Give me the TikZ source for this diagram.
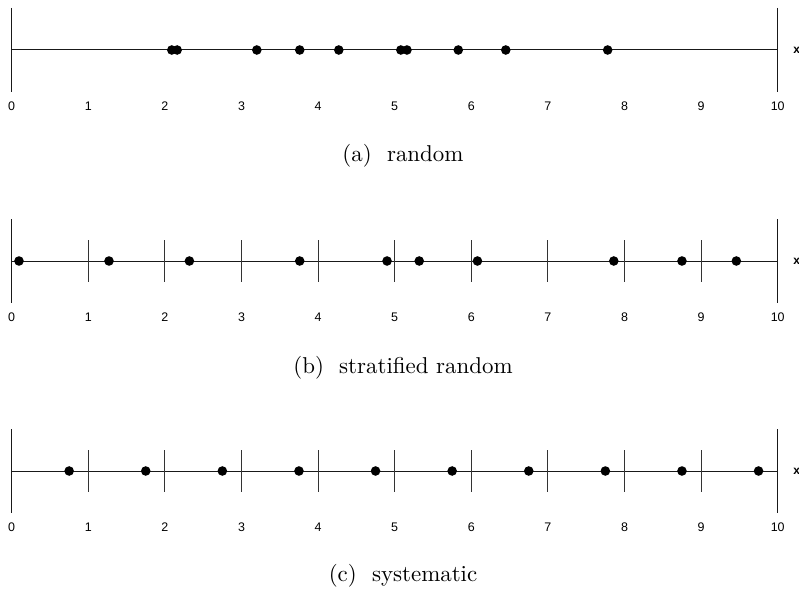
\documentclass[tikz,border=0pt]{standalone}
\usepackage{fontspec}
\newfontfamily\axisfont{Liberation Sans}
\tikzset{
  axisline/.style={line width=1bp, black!90},
  endline/.style={line width=1bp, black!90},
  tickline/.style={line width=1bp, black!80},
  dot/.style={fill=black},
  numlabel/.style={font=\axisfont\fontsize{12.5}{13}\selectfont, inner sep=0pt, anchor=base, yshift=-4.5bp},
  xlabel/.style={font=\axisfont\bfseries\fontsize{12}{13}\selectfont, inner sep=0pt, anchor=west},
  caption/.style={font=\fontsize{10}{12}\selectfont, inner sep=0pt, scale=2.3}
}
\newcommand\mynumline[4]{% #1 y of axis, #2 name, #3 dots, #4 ticks yes(1)/no(0)
  \begin{scope}[shift={(11.7,#1)}, x=76.6bp]
    \coordinate (#2L) at (0,0);
    \coordinate (#2R) at (10,0);
    \draw[axisline] (#2L) -- (#2R);
    \draw[endline] (0,-42) -- (0,42);
    \draw[endline] (10,-42) -- (10,42);
    \ifnum#4=1
      \foreach \t in {1,...,9} {\draw[tickline] (\t,-21) -- (\t,21);}
    \fi
    \foreach \t in {0,...,10} {\node[numlabel] (#2n\t) at (\t,56) {\t};}
    \node[xlabel] (#2x) at ([xshift=15.5bp]#2R) {x};
    \foreach \d [count=\k] in {#3} {\fill[dot] (\d,0) circle[radius=4.8bp];}
  \end{scope}
}
\begin{document}
\begin{tikzpicture}[x=1bp,y=-1bp]
\useasboundingbox (0,0) rectangle (799,593);
\mynumline{50}{a}{2.09,2.16,3.20,3.76,4.27,5.08,5.16,5.83,6.45,7.78}{0}
\mynumline{261}{b}{0.095,1.27,2.32,3.76,4.90,5.32,6.08,7.86,8.75,9.46}{1}
\mynumline{471}{c}{0.75,1.75,2.75,3.75,4.75,5.75,6.75,7.75,8.75,9.75}{1}
\node[caption] (capa) at (403,156) {(a)\ \ random};
\node[caption] (capb) at (403,368) {(b)\ \ stratified random};
\node[caption] (capc) at (403,576) {(c)\ \ systematic};
\end{tikzpicture}
\end{document}
